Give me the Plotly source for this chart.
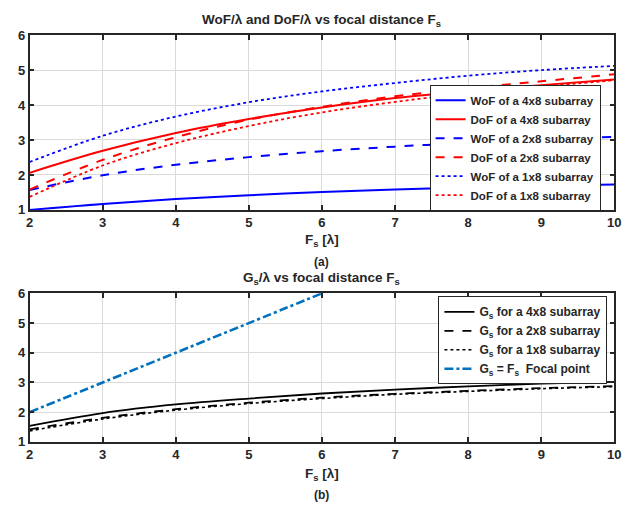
import plotly.graph_objects as go

Fs = [2, 3, 4, 5, 6, 7, 8, 9, 10]

wof_4x8 = [1.00, 1.17, 1.31, 1.42, 1.51, 1.58, 1.64, 1.69, 1.73]
dof_4x8 = [2.06, 2.69, 3.20, 3.60, 3.93, 4.20, 4.40, 4.57, 4.73]
wof_2x8 = [1.57, 1.99, 2.29, 2.51, 2.68, 2.81, 2.92, 3.01, 3.09]
dof_2x8 = [1.58, 2.43, 3.08, 3.58, 3.95, 4.25, 4.48, 4.68, 4.88]
wof_1x8 = [2.37, 3.12, 3.67, 4.08, 4.39, 4.63, 4.84, 5.00, 5.12]
dof_1x8 = [1.37, 2.27, 2.91, 3.40, 3.79, 4.09, 4.34, 4.53, 4.71]

gs_4x8 = [1.54, 1.97, 2.26, 2.46, 2.63, 2.76, 2.87, 2.96, 3.02]
gs_2x8 = [1.42, 1.81, 2.10, 2.32, 2.49, 2.62, 2.72, 2.81, 2.88]
gs_1x8 = [1.37, 1.77, 2.07, 2.29, 2.46, 2.60, 2.70, 2.79, 2.86]
focal_x = [2, 3, 4, 5, 6]
focal_y = [2, 3, 4, 5, 6]

BLUE = "rgb(0,0,255)"
RED = "rgb(255,0,0)"
BLACK = "rgb(0,0,0)"
FOCAL = "#0072BD"
AX = "#262626"
FONT = "Liberation Sans"

fig = go.Figure()

top = [
    ("WoF of a 4x8 subarray", wof_4x8, BLUE, "solid", 2),
    ("DoF of a 4x8 subarray", dof_4x8, RED, "solid", 2),
    ("WoF of a 2x8 subarray", wof_2x8, BLUE, "dash", 2),
    ("DoF of a 2x8 subarray", dof_2x8, RED, "dash", 2),
    ("WoF of a 1x8 subarray", wof_1x8, BLUE, "dot", 1.8),
    ("DoF of a 1x8 subarray", dof_1x8, RED, "dot", 1.8),
]
for name, ys, col, dash, w in top:
    fig.add_trace(go.Scatter(x=Fs, y=ys, mode="lines", name=name,
                             line=dict(color=col, width=w, dash=dash, shape="spline"),
                             xaxis="x", yaxis="y", legend="legend"))

bot = [
    ("G<sub>s</sub> for a 4x8 subarray", Fs, gs_4x8, BLACK, "solid", 1.8),
    ("G<sub>s</sub> for a 2x8 subarray", Fs, gs_2x8, BLACK, "dash", 1.8),
    ("G<sub>s</sub> for a 1x8 subarray", Fs, gs_1x8, BLACK, "dot", 1.6),
    ("G<sub>s</sub> = F<sub>s</sub>  Focal point", focal_x, focal_y, FOCAL, "dashdot", 2.6),
]
for name, xs, ys, col, dash, w in bot:
    fig.add_trace(go.Scatter(x=xs, y=ys, mode="lines", name=name,
                             line=dict(color=col, width=w, dash=dash, shape="spline"),
                             xaxis="x2", yaxis="y2", legend="legend2"))

def xax(anchor):
    return dict(domain=[26/641, 621/641], anchor=anchor, range=[2, 10], dtick=1,
                showgrid=True, gridcolor="#dadada", gridwidth=1,
                showline=True, linecolor=AX, linewidth=1.5, mirror="allticks",
                ticks="inside", ticklen=5, tickcolor=AX, tickwidth=1.5,
                tickfont=dict(family=FONT, size=13, color=AX, weight="bold"),
                zeroline=False)

def yax(anchor, dom):
    return dict(domain=dom, anchor=anchor, range=[1, 6], dtick=1,
                showgrid=True, gridcolor="#dadada", gridwidth=1,
                showline=True, linecolor=AX, linewidth=1.5, mirror="allticks",
                ticks="inside", ticklen=5, tickcolor=AX, tickwidth=1.5,
                tickfont=dict(family=FONT, size=13, color=AX, weight="bold"),
                zeroline=False)

H = 513.0
top_dom = [1 - 209/H, 1 - 29/H]
bot_dom = [1 - 448/H, 1 - 295/H]

fig.update_layout(
    width=641, height=513,
    margin=dict(l=0, r=0, t=0, b=0),
    paper_bgcolor="white", plot_bgcolor="white",
    xaxis=xax("y"), yaxis=yax("x", top_dom),
    xaxis2=xax("y2"), yaxis2=yax("x2", bot_dom),
    legend=dict(x=433/641, y=1 - 80/H, xanchor="left", yanchor="top",
                bgcolor="white", bordercolor=AX, borderwidth=1,
                font=dict(family=FONT, size=11.5, color=AX, weight="bold"),
                tracegroupgap=0, itemwidth=30),
    legend2=dict(x=442/641, y=1 - 298/H, xanchor="left", yanchor="top",
                 bgcolor="white", bordercolor=AX, borderwidth=1,
                 font=dict(family=FONT, size=12, color=AX, weight="bold"),
                 tracegroupgap=0, itemwidth=30),
    showlegend=True,
)

ann = [
    ("WoF/λ and DoF/λ vs focal distance F<sub>s</sub>", 14, 13.5),
    ("F<sub>s</sub> [λ]", 241, 13.5),
    ("(a)", 263, 12),
    ("G<sub>s</sub>/λ vs focal distance F<sub>s</sub>", 280, 13.5),
    ("F<sub>s</sub> [λ]", 482, 13.5),
    ("(b)", 503, 12),
]
for text, ypx, sz in ann:
    fig.add_annotation(text=text, x=(26 + 621) / 2 / 641, y=1 - ypx/H,
                       xref="paper", yref="paper", showarrow=False,
                       xanchor="center", yanchor="middle",
                       font=dict(family=FONT, size=sz, color=AX, weight="bold"))

fig.write_html("out.html")
